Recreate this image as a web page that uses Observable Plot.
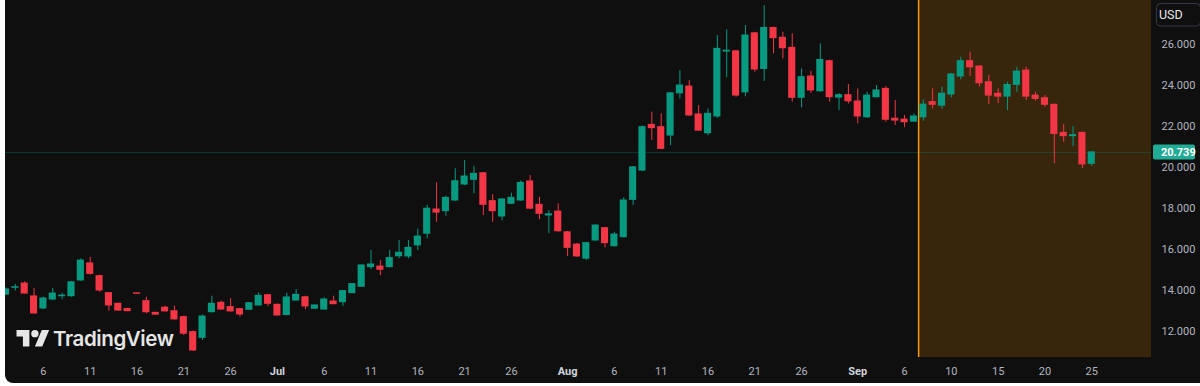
<!DOCTYPE html>
<html>
<head>
<meta charset="utf-8">
<script src="https://cdn.jsdelivr.net/npm/d3@7"></script>
<script src="https://cdn.jsdelivr.net/npm/@observablehq/plot@0.6"></script>
<style>
  html, body { margin: 0; padding: 0; background: #ffffff; width: 1200px; height: 386px; overflow: hidden; }
  #panel { position: absolute; left: 5px; top: -10px; width: 1210px; height: 393px; background: #0f0f0f; border-radius: 8px; overflow: hidden; }
  #chart { position: absolute; left: 0; top: 10px; }
  #overlay { position: absolute; left: 0; top: 0; pointer-events: none; }
</style>
</head>
<body>
<div id="panel"><div id="chart"></div></div>
<svg id="overlay" width="1200" height="386"></svg>
<script>
// ---- data (daily bars, index 0 = first visible bar) ----
const opens = [13.80,14.13,14.34,13.71,13.12,13.56,13.72,13.72,14.49,15.32,14.70,13.87,13.35,13.10,13.86,13.48,12.91,13.16,12.99,12.70,
  11.97,11.69,12.94,13.40,13.19,13.09,13.06,13.27,13.77,13.30,12.80,13.51,13.67,13.11,13.07,13.46,13.43,13.87,14.18,15.14,
  15.17,15.14,15.67,15.66,16.20,16.77,17.95,17.87,18.39,19.17,19.40,19.72,18.36,17.61,18.23,18.39,19.32,18.18,17.66,17.85,
  16.84,16.24,15.55,16.44,17.04,16.16,16.60,18.42,19.85,22.08,21.97,21.56,23.62,23.95,22.59,21.67,22.49,25.66,25.67,23.67,
  26.55,24.81,26.81,26.33,25.84,23.40,24.44,23.72,25.19,23.41,23.53,23.22,22.45,23.43,23.84,22.38,22.34,22.24,22.45,23.19,
  23.02,23.56,24.44,25.19,24.93,24.16,23.60,23.46,24.03,24.73,23.51,23.38,23.06,21.69,21.53,21.69,20.18];
const highs = [14.12,14.30,14.42,14.10,13.67,14.10,13.87,14.44,15.55,15.62,14.75,13.90,13.38,13.12,13.87,13.67,12.93,13.24,13.24,12.75,
  12.02,12.80,13.72,13.48,13.60,13.12,13.42,13.89,13.80,13.34,13.87,14.05,13.72,13.29,13.64,13.72,14.00,14.34,15.24,15.95,
  15.46,15.95,16.44,16.44,17.00,18.15,19.25,18.60,19.94,20.34,20.06,19.75,18.68,18.48,18.75,19.35,19.61,18.55,17.90,18.23,
  16.88,16.30,16.35,17.20,17.08,16.84,18.52,20.05,22.02,22.70,22.62,23.66,24.73,24.24,23.02,22.86,26.44,26.72,25.72,26.93,
  26.60,27.90,26.85,26.60,26.52,24.81,24.70,26.03,25.24,23.60,24.05,23.84,23.67,24.00,23.95,23.27,22.54,22.62,23.30,23.84,
  23.92,24.58,25.38,25.62,24.96,24.50,23.84,24.16,24.89,24.89,23.67,23.51,23.10,22.10,22.00,21.72,20.76];
const lows = [13.75,13.98,13.83,12.85,13.07,13.50,13.55,13.67,14.45,14.75,13.92,12.99,12.98,12.97,13.83,12.86,12.80,12.96,12.55,11.80,
  11.02,11.56,12.90,13.05,12.95,12.70,13.04,13.24,13.22,12.76,12.78,13.49,13.07,13.07,13.05,13.31,13.22,13.85,14.16,15.02,
  14.72,15.10,15.55,15.55,15.95,16.52,17.33,17.62,18.35,19.12,18.72,17.66,17.33,17.40,18.20,18.35,17.95,17.45,16.77,16.85,
  15.66,15.62,15.46,16.40,16.08,16.12,16.56,18.15,19.80,21.32,20.88,21.07,23.35,22.50,21.76,21.55,22.40,24.38,23.43,23.45,
  24.65,24.20,25.55,25.30,23.19,22.91,23.63,23.68,23.19,22.78,23.10,22.13,22.40,23.40,22.21,22.05,21.94,22.20,22.26,22.85,
  22.85,23.40,24.28,24.44,23.92,23.07,23.11,22.78,23.67,23.27,23.23,22.94,20.18,21.23,21.02,19.94,20.05];
const closes = [14.05,14.16,13.85,12.88,13.61,13.85,13.75,14.40,15.46,14.81,14.00,13.27,13.02,12.99,13.84,12.94,12.82,12.98,12.59,11.89,
  11.07,12.73,13.35,13.07,12.98,12.83,13.38,13.74,13.35,12.78,13.66,13.79,13.22,13.27,13.56,13.33,13.97,14.31,15.22,15.27,
  15.01,15.58,15.84,16.08,16.63,17.99,17.80,18.52,19.33,19.56,19.69,18.18,17.87,18.44,18.52,19.25,17.99,17.74,17.72,16.89,
  16.08,15.66,16.31,17.17,16.31,16.73,18.39,20.01,21.97,21.92,20.91,23.62,24.00,22.54,21.80,22.62,25.79,25.70,23.51,26.44,
  24.78,26.81,26.31,25.82,23.40,24.41,23.76,25.25,23.43,23.53,23.23,22.49,23.51,23.76,22.33,22.29,22.21,22.49,23.07,23.06,
  23.60,24.54,25.19,24.89,24.11,23.51,23.46,24.03,24.68,23.46,23.35,23.06,21.64,21.53,21.58,20.15,20.739];

// time-axis labels (bar index -> label)
const tickBars   = [4,9,14,19,24,29,34,39,44,49,54,60,65,70,75,80,85,91,96,101,106,111,116];
const tickLabels = ["6","11","16","21","26","Jul","6","11","16","21","26","Aug","6","11","16","21","26","Sep","6","10","15","20","25"];
const monthNames = ["Jul","Aug","Sep"];
// price-axis labels
const priceTicks = [12,14,16,18,20,22,24,26];
// highlighted session starts between bars 97 and 98
const sessionStart = 97.5;

// ---- build ----
const candles = opens.map((o, i) => ({i, o, h: highs[i], l: lows[i], c: closes[i]}));
const lastPrice = closes[closes.length - 1];
const UP = "#089981", DOWN = "#f23645", ORANGE = "#ff9800";
const W = 1195, H = 383;
const xDomain = [-0.05, 122.38];
const yDomain = [10.73, 28.15];
const labelOf = new Map(tickBars.map((b, k) => [b, tickLabels[k]]));
const dayTicks = tickBars.filter(b => !monthNames.includes(labelOf.get(b)));
const monthTicks = tickBars.filter(b => monthNames.includes(labelOf.get(b)));

const chart = Plot.plot({
  width: W, height: H,
  marginLeft: 0, marginRight: 49, marginTop: 0, marginBottom: 26,
  style: {background: "transparent", fontFamily: "Roboto, 'DejaVu Sans', sans-serif", fontSize: "11px", overflow: "visible"},
  x: {domain: xDomain},
  y: {domain: yDomain},
  color: {type: "identity"},
  marks: [
    Plot.rect([{x1: sessionStart, x2: xDomain[1]}], {x1: "x1", x2: "x2", fill: ORANGE, fillOpacity: 0.17}),
    Plot.ruleY([lastPrice], {stroke: UP, strokeOpacity: 0.3}),
    Plot.ruleX([sessionStart], {stroke: ORANGE, strokeWidth: 1.5}),
    Plot.ruleX(candles, {x: "i", y1: "l", y2: "h", stroke: d => d.c >= d.o ? UP : DOWN, strokeWidth: 1}),
    Plot.rect(candles, {
      x1: d => d.i - 0.38, x2: d => d.i + 0.38,
      y1: d => Math.min(d.o, d.c), y2: d => Math.max(d.o, d.c),
      fill: d => d.c >= d.o ? UP : DOWN,
      insetTop: -0.5, insetBottom: -0.5
    }),
    Plot.axisY(priceTicks, {anchor: "right", tickSize: 0, tickPadding: 10, tickFormat: d3.format(".3f"), color: "#b2b5be"}),
    Plot.axisX(dayTicks, {anchor: "bottom", tickSize: 0, tickPadding: 10, tickFormat: d => labelOf.get(d), color: "#b2b5be"}),
    Plot.axisX(monthTicks, {anchor: "bottom", tickSize: 0, tickPadding: 10, tickFormat: d => labelOf.get(d), color: "#d1d4dc", fontWeight: "bold"})
  ]
});
document.getElementById("chart").appendChild(chart);

// last-price label on the price scale
const yLast = chart.scale("y").apply(lastPrice);
const svg = d3.select(chart);
const tag = svg.append("g");
tag.append("rect").attr("x", W - 49 + 2).attr("y", yLast - 7.5).attr("width", 42).attr("height", 15).attr("rx", 2).attr("fill", "#22ab94");
tag.append("text").attr("x", W - 49 + 10).attr("y", yLast).attr("dy", "0.35em").attr("text-anchor", "start")
  .attr("fill", "#ffffff").attr("font-size", 11).attr("font-weight", "bold").text(d3.format(".3f")(lastPrice));

// overlays: watermark logo + currency box
const ov = d3.select("#overlay");
const logo = ov.append("g").attr("transform", "translate(16.5,326.3) scale(0.92)").attr("fill", "#e6e6e6");
logo.append("path").attr("d", "M14 22H7V11H0V4h14v18zM28 22h-8l7.5-18h8L28 22z");
logo.append("circle").attr("cx", 20).attr("cy", 8).attr("r", 4);
ov.append("text").attr("x", 53).attr("y", 345.7).attr("fill", "#e6e6e6").attr("letter-spacing", "-0.4px")
  .attr("font-family", "Inter, 'Open Sans', sans-serif").attr("font-weight", 600).attr("font-size", 20.5).text("TradingView");
ov.append("rect").attr("x", 1156.5).attr("y", 3.5).attr("width", 44).attr("height", 22.5).attr("rx", 4)
  .attr("fill", "#0f0f0f").attr("stroke", "#363a45");
ov.append("text").attr("x", 1159).attr("y", 14.8).attr("dy", "0.35em").attr("fill", "#e6e6e6")
  .attr("font-family", "Roboto, sans-serif").attr("font-size", 12.5).text("USD");
</script>
</body>
</html>
